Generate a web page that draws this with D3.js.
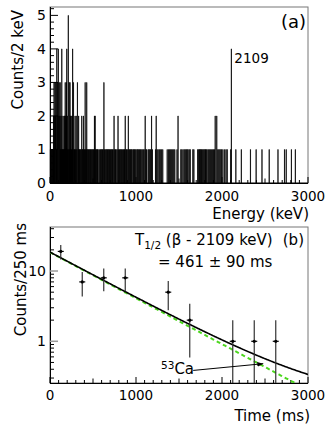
<!DOCTYPE html>
<html><head><meta charset="utf-8">
<script src="https://cdn.jsdelivr.net/npm/d3@7"></script>
<style>
body{margin:0;background:#fff}
text{font-family:"DejaVu Sans",sans-serif;fill:#000}
</style></head><body><svg id="chart" width="332" height="435"></svg>
<script>
// (a) beta-gated energy spectrum, 2 keV bins. low edge of each filled bin, grouped by content
const binsWith1 = [4,10,16,24,30,36,44,50,56,64,74,80,90,98,108,114,122,132,140,146,154,160,168,178,186,196,204,216,228,240,250,256,266,280,286,296,310,316,326,338,344,352,360,374,380,394,400,414,420,432,440,448,456,464,470,480,488,496,504,512,530,538,546,552,560,576,586,594,602,610,618,634,642,652,660,668,676,684,692,
  702,710,718,726,734,752,760,768,780,798,806,816,824,832,842,852,860,866,882,890,898,918,926,936,944,952,964,972,982,990,1000,1012,1020,1030,1040,1050,1060,1072,1084,1094,
  1114,1122,1140,1150,1160,1170,1190,1226,1244,1256,1270,1282,1296,1310,1362,1378,1390,1402,1414,1426,1438,1450,1476,
  1520,1532,1546,1560,1572,1584,1594,1604,1618,1630,1660,1672,1716,1728,1736,1744,1752,1760,1770,1780,1790,1800,1808,1816,1826,1840,1852,1864,1876,1890,1900,1912,1950,1962,1974,1986,1996,
  2010,2030,2046,2060,2100,2160,2224,2330,2396,2464,2548,2650,2726,2746,2806,2852];
const binsWith2 = [40,54,62,70,84,92,104,112,128,150,164,172,182,200,210,224,236,246,258,290,304,320,332,368,388,516,524,744,790,874,910,1106,1180,1234,1488,1920,1938];
const binsWith3 = [46,58,68,86,106,118,176,190,222,232,272,318,408,426,626];
const binsWith4 = [78,96,136,194,262,2108];
const binsWith5 = [212];
const energyTicks = [0, 1000, 2000, 3000];
const countTicks = [0, 1, 2, 3, 4, 5];

// (b) decay curve, 250 ms bins
const timeBins = [125, 375, 625, 875, 1375, 1625, 2125, 2375, 2625];
const timeCounts = [19, 7, 8, 8, 5, 2, 1, 1, 1];
const timeTicks = [0, 1000, 2000, 3000];
const logTicks = [1, 10];
// fit: 53Ca decay + flat background
const fitA = 18.45, fitHalfLife = 461, fitBkg = 0.135;

const svg = d3.select("#chart");

// ---------- panel (a) ----------
const xA = d3.scaleLinear().domain([0, 3000]).range([50, 308]);
const yA = d3.scaleLinear().domain([0, 5.25]).range([183, 7]);

const hist = new Array(1500).fill(0);
[binsWith1, binsWith2, binsWith3, binsWith4, binsWith5].forEach(function (list, i) {
  list.forEach(function (e) { hist[e / 2] = i + 1; });
});
const histPts = hist.map(function (n, i) { return [i * 2, n]; });
histPts.push([3000, 0]);

svg.append("rect").attr("x", 50).attr("y", 7).attr("width", 258).attr("height", 176)
  .attr("fill", "none").attr("stroke", "#777").attr("stroke-width", 1);

svg.append("path")
  .attr("d", d3.line().x(function (d) { return xA(d[0]); }).y(function (d) { return yA(d[1]); }).curve(d3.curveStepAfter)(histPts))
  .attr("fill", "none").attr("stroke", "#000").attr("stroke-width", 0.75);

function drawXTicks(g, scale, y0) {
  d3.range(0, 3001, 100).forEach(function (v) {
    const len = v % 1000 === 0 ? 6 : (v % 500 === 0 ? 4.5 : 3);
    g.append("line").attr("x1", scale(v)).attr("x2", scale(v)).attr("y1", y0).attr("y2", y0 - len)
      .attr("stroke", "#000").attr("stroke-width", 1);
  });
}

const axA = svg.append("g");
axA.append("line").attr("x1", 50).attr("x2", 308).attr("y1", 183.5).attr("y2", 183.5).attr("stroke", "#000");
axA.append("line").attr("x1", 50.5).attr("x2", 50.5).attr("y1", 7).attr("y2", 184).attr("stroke", "#000");
drawXTicks(axA, xA, 183);
d3.range(0, 5.21, 0.2).forEach(function (v) {
  const major = Math.abs(v - Math.round(v)) < 1e-6;
  axA.append("line").attr("x1", 50).attr("x2", 50 + (major ? 8 : 4))
    .attr("y1", yA(v)).attr("y2", yA(v)).attr("stroke", "#000").attr("stroke-width", 1);
});
axA.selectAll("text.yt").data(countTicks).enter().append("text")
  .attr("x", 46).attr("y", function (d) { return yA(d) + 5; })
  .attr("text-anchor", "end").attr("font-size", 14).text(function (d) { return d; });
axA.selectAll("text.xt").data(energyTicks).enter().append("text")
  .attr("x", function (d) { return xA(d); }).attr("y", 201)
  .attr("text-anchor", "middle").attr("font-size", 13.5).text(function (d) { return d; });

svg.append("text").attr("transform", "translate(23,10) rotate(-90)")
  .attr("text-anchor", "end").attr("font-size", 15).text("Counts/2 keV");
svg.append("text").attr("x", 309).attr("y", 219).attr("text-anchor", "end")
  .attr("font-size", 15).text("Energy (keV)");
svg.append("text").attr("x", 306).attr("y", 28).attr("text-anchor", "end")
  .attr("font-size", 18).text("(a)");
svg.append("text").attr("x", xA(2109) + 3).attr("y", 63)
  .attr("font-size", 13.5).text("2109");

// ---------- panel (b) ----------
const xB = d3.scaleLinear().domain([0, 3000]).range([50, 308]);
const yB = d3.scaleLog().domain([0.255, 42.3]).range([383, 227]);

svg.append("defs").append("clipPath").attr("id", "clipB")
  .append("rect").attr("x", 50).attr("y", 227).attr("width", 258).attr("height", 156);

svg.append("rect").attr("x", 50).attr("y", 227).attr("width", 258).attr("height", 156)
  .attr("fill", "none").attr("stroke", "#777").attr("stroke-width", 1);

const axB = svg.append("g");
axB.append("line").attr("x1", 50).attr("x2", 308).attr("y1", 383.5).attr("y2", 383.5).attr("stroke", "#000");
axB.append("line").attr("x1", 50.5).attr("x2", 50.5).attr("y1", 227).attr("y2", 384).attr("stroke", "#000");
drawXTicks(axB, xB, 383);
[0.3,0.4,0.5,0.6,0.7,0.8,0.9,1,2,3,4,5,6,7,8,9,10,20,30,40].forEach(function (v) {
  const major = logTicks.indexOf(v) >= 0;
  axB.append("line").attr("x1", 50).attr("x2", 50 + (major ? 8 : 4))
    .attr("y1", yB(v)).attr("y2", yB(v)).attr("stroke", major ? "#999" : "#000").attr("stroke-width", major ? 1.5 : 1);
});
axB.selectAll("text.yt").data(logTicks).enter().append("text")
  .attr("x", 46).attr("y", function (d) { return yB(d) + 5; })
  .attr("text-anchor", "end").attr("font-size", 14).text(function (d) { return d; });
axB.selectAll("text.xt").data(timeTicks).enter().append("text")
  .attr("x", function (d) { return xB(d); }).attr("y", 400)
  .attr("text-anchor", "middle").attr("font-size", 13.5).text(function (d) { return d; });

const tSamples = d3.range(0, 3001, 10);
const lam = Math.LN2 / fitHalfLife;
const plot = svg.append("g").attr("clip-path", "url(#clipB)");
plot.append("path")
  .attr("d", d3.line().x(function (t) { return xB(t); }).y(function (t) { return yB(fitA * Math.exp(-lam * t)); })(tSamples))
  .attr("fill", "none").attr("stroke", "#4cd61e").attr("stroke-width", 2).attr("stroke-dasharray", "4,3");
plot.append("path")
  .attr("d", d3.line().x(function (t) { return xB(t); }).y(function (t) { return yB(fitA * Math.exp(-lam * t) + fitBkg); })(tSamples))
  .attr("fill", "none").attr("stroke", "#000").attr("stroke-width", 1.6);

const pts = plot.selectAll("g.pt").data(timeBins.map(function (t, i) { return { t: t, n: timeCounts[i] }; }))
  .enter().append("g");
pts.append("line")
  .attr("x1", function (d) { return xB(d.t); }).attr("x2", function (d) { return xB(d.t); })
  .attr("y1", function (d) { return yB(d.n + Math.sqrt(d.n)); })
  .attr("y2", function (d) { return d.n - Math.sqrt(d.n) > 0 ? yB(d.n - Math.sqrt(d.n)) : 390; })
  .attr("stroke", "#333").attr("stroke-width", 1.2);
pts.append("line")
  .attr("x1", function (d) { return xB(d.t) - 3; }).attr("x2", function (d) { return xB(d.t) + 3; })
  .attr("y1", function (d) { return yB(d.n); }).attr("y2", function (d) { return yB(d.n); })
  .attr("stroke", "#000").attr("stroke-width", 1.2);
pts.append("circle").attr("cx", function (d) { return xB(d.t); }).attr("cy", function (d) { return yB(d.n); })
  .attr("r", 1.6).attr("fill", "#000");

svg.append("defs").append("marker").attr("id", "arr").attr("viewBox", "0 0 10 10")
  .attr("refX", 10).attr("refY", 5).attr("markerWidth", 6).attr("markerHeight", 6).attr("orient", "auto")
  .append("path").attr("d", "M0,1L10,5L0,9z").attr("fill", "#000");
svg.append("line").attr("x1", xB(1665)).attr("y1", yB(0.385)).attr("x2", xB(2480)).attr("y2", yB(0.48))
  .attr("stroke", "#000").attr("stroke-width", 1).attr("marker-end", "url(#arr)");
const ca = svg.append("text").attr("x", 161).attr("y", 374).attr("font-size", 15);
ca.append("tspan").attr("font-size", 10.5).attr("dy", -5).text("53");
ca.append("tspan").attr("dy", 5).text("Ca");

const ht = svg.append("text").attr("x", 135).attr("y", 245).attr("font-size", 15);
ht.append("tspan").text("T");
ht.append("tspan").attr("font-size", 10.5).attr("dy", 4).text("1/2");
ht.append("tspan").attr("dy", -4).text(" (\u03b2 - 2109 keV)");
svg.append("text").attr("x", 304).attr("y", 245).attr("text-anchor", "end").attr("font-size", 15).text("(b)");
svg.append("text").attr("x", 158).attr("y", 267).attr("font-size", 15).text("= 461 \u00b1 90 ms");

svg.append("text").attr("transform", "translate(26,223) rotate(-90)")
  .attr("text-anchor", "end").attr("font-size", 15).text("Counts/250 ms");
svg.append("text").attr("x", 310).attr("y", 421).attr("text-anchor", "end")
  .attr("font-size", 15).text("Time (ms)");
</script></body></html>
